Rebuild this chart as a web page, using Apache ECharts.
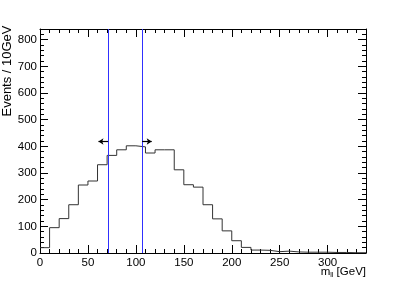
<!DOCTYPE html>
<html>
<head>
<meta charset="utf-8">
<script src="https://cdn.jsdelivr.net/npm/echarts@6/dist/echarts.min.js"></script>
<style>
  html, body { margin: 0; padding: 0; background: #fff; }
  #container { width: 407px; height: 282px; }
</style>
</head>
<body>
<div id="container"></div>
<script>
// bin low edges (GeV) and events per 10 GeV
var binEdges = [0, 10, 20, 30, 40, 50, 60, 70, 80, 90, 100, 110, 120, 130, 140, 150, 160,
    170, 180, 190, 200, 210, 220, 230, 240, 250, 260, 270, 280, 290, 300, 310, 320, 330];
var binCounts = [20, 95, 129, 181, 255, 270, 331, 366, 387, 402, 398, 375, 387, 387, 312, 256, 247,
    181, 128, 83, 46, 21, 11, 10, 5, 7, 4, 3, 3, 3, 2, 2, 1, 1];
var histEnd = 340;
// mass window cuts
var cutLow = 71;
var cutHigh = 106.5;
var arrowY = 418;
var arrowLen = 10;

var font = 'Liberation Sans';

// step points for the histogram outline
var histData = [];
for (var i = 0; i < binEdges.length; i++) {
    histData.push([binEdges[i], binCounts[i]]);
}
histData.push([histEnd, binCounts[binCounts.length - 1]]);

function xAxisCfg(pos, labels) {
    return {
        type: 'value', position: pos, min: 0, max: histEnd, interval: 50,
        axisLine: {show: true, onZero: false, lineStyle: {color: '#000', width: 1}},
        axisTick: {show: true, inside: true, length: 8, lineStyle: {color: '#000'}},
        minorTick: {show: true, splitNumber: 5, length: 4, lineStyle: {color: '#000'}},
        axisLabel: {show: labels, color: '#000', fontFamily: font, fontSize: 11.5, margin: 4, showMaxLabel: false},
        splitLine: {show: false}
    };
}
function yAxisCfg(pos, labels) {
    return {
        type: 'value', position: pos, min: 0, max: 840, interval: 100,
        axisLine: {show: true, onZero: false, lineStyle: {color: '#000', width: 1}},
        axisTick: {show: true, inside: true, length: 8, lineStyle: {color: '#000'}},
        minorTick: {show: true, splitNumber: 5, length: 4, lineStyle: {color: '#000'}},
        axisLabel: {show: labels, color: '#000', fontFamily: font, fontSize: 11.5, margin: 3, showMaxLabel: false},
        splitLine: {show: false}
    };
}

var dom = document.getElementById("container");
var myChart = echarts.init(dom, null, {renderer: 'canvas'});
var option = {
    animation: false,
    backgroundColor: '#fff',
    grid: {left: 40, right: 41, top: 29, bottom: 29},
    xAxis: [xAxisCfg('bottom', true), xAxisCfg('top', false)],
    yAxis: [yAxisCfg('left', true), yAxisCfg('right', false)],
    graphic: [
        {
            type: 'text', x: 366, y: 272,
            style: {
                text: '{m|m}{s|ll}{m| [GeV]}', align: 'right', verticalAlign: 'middle',
                rich: {
                    m: {fontFamily: font, fontSize: 11.5, fill: '#000'},
                    s: {fontFamily: font, fontSize: 7, fill: '#000', padding: [6, 0, 0, 0]}
                }
            }
        },
        {
            type: 'text', x: 7, y: 71, rotation: Math.PI / 2,
            style: {
                text: 'Events / 10GeV', align: 'center', verticalAlign: 'middle',
                fontFamily: font, fontSize: 13, fill: '#000'
            }
        }
    ],
    series: [{
        type: 'line',
        step: 'end',
        data: histData,
        symbol: 'none',
        lineStyle: {color: '#333', width: 1},
        markLine: {
            silent: true,
            symbol: 'none',
            label: {show: false},
            data: [
                [{coord: [cutLow, 0], lineStyle: {color: '#3030ff', width: 1, type: 'solid'}},
                 {coord: [cutLow, 840]}],
                [{coord: [cutHigh, 0], lineStyle: {color: '#3030ff', width: 1, type: 'solid'}},
                 {coord: [cutHigh, 840]}],
                [{coord: [cutLow, arrowY], symbol: 'none', lineStyle: {color: '#000', width: 1.2, type: 'solid'}},
                 {coord: [cutLow - arrowLen, arrowY], symbol: 'arrow', symbolSize: 5}],
                [{coord: [cutHigh, arrowY], symbol: 'none', lineStyle: {color: '#000', width: 1.2, type: 'solid'}},
                 {coord: [cutHigh + arrowLen, arrowY], symbol: 'arrow', symbolSize: 5}]
            ]
        }
    }]
};
if (option && typeof option === "object") {
    myChart.setOption(option, true);
}
</script>
</body>
</html>
